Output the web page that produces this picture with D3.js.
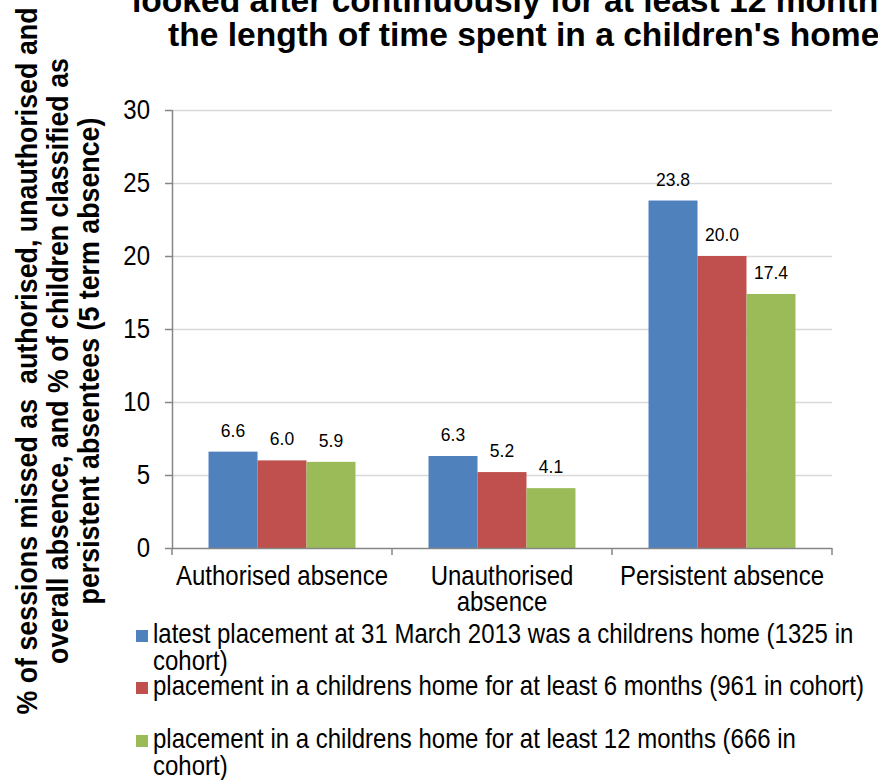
<!DOCTYPE html>
<html><head><meta charset="utf-8">
<script src="https://cdn.jsdelivr.net/npm/d3@7"></script>
<style>body{margin:0;background:#fff}svg{display:block}text{font-family:"Liberation Sans",Arial,sans-serif}</style>
</head><body>
<svg id="c" width="878" height="780"></svg>
<script>
const categories = [["Authorised absence"], ["Unauthorised", "absence"], ["Persistent absence"]];
const seriesNames = [
  ["latest placement at 31 March 2013 was a childrens home (1325 in", "cohort)"],
  ["placement in a childrens home for at least 6 months (961 in cohort)"],
  ["placement in a childrens home for at least 12 months (666 in", "cohort)"]
];
const latestPlacement = [6.6, 6.3, 23.8];
const atLeast6Months = [6.0, 5.2, 20.0];
const atLeast12Months = [5.9, 4.1, 17.4];
const yTicks = [0, 5, 10, 15, 20, 25, 30];
const titleLines = ["looked after continuously for at least 12 months", "the length of time spent in a children's home"];
const yTitleLines = ["% of sessions missed as  authorised, unauthorised and", "overall absence, and % of children classified as", "persistent absentees (5 term absence)"];
const colors = ["#4F81BD", "#C0504D", "#9BBB59"];
const seriesValues = [latestPlacement, atLeast6Months, atLeast12Months];

const SY = 1.15; // vertical glyph stretch seen in the reference
const svg = d3.select("#c");
const L = 172, R = 832, T = 110, B = 548;
const x0 = d3.scaleBand().domain(d3.range(categories.length)).range([L, R]).paddingInner(0).paddingOuter(0);
const groupW = x0.bandwidth() * 0.668;
const x1 = d3.scaleBand().domain(d3.range(seriesValues.length)).range([(x0.bandwidth() - groupW) / 2, (x0.bandwidth() + groupW) / 2]);
const y = d3.scaleLinear().domain([0, 30]).range([B, T]);

// gridlines
svg.append("g").selectAll("line").data(yTicks.filter(d => d > 0)).join("line")
  .attr("x1", L).attr("x2", R).attr("y1", d => y(d) + 0.5).attr("y2", d => y(d) + 0.5)
  .attr("stroke", "#d9d9d9").attr("stroke-width", 1.3);

// bars
const gs = svg.append("g").selectAll("g").data(categories).join("g")
  .attr("transform", (d, i) => `translate(${x0(i)},0)`);
gs.selectAll("rect").data((d, i) => seriesValues.map((s, j) => ({ j, v: s[i] }))).join("rect")
  .attr("x", d => x1(d.j)).attr("width", x1.bandwidth())
  .attr("y", d => y(d.v)).attr("height", d => y(0) - y(d.v))
  .attr("fill", d => colors[d.j]);
gs.selectAll("text.v").data((d, i) => seriesValues.map((s, j) => ({ j, v: s[i] }))).join("text")
  .attr("class", "v")
  .attr("transform", d => `translate(${x1(d.j) + x1.bandwidth() / 2},${y(d.v) - 15}) scale(1,1.05)`)
  .attr("text-anchor", "middle").attr("font-size", 17.5).attr("fill", "#000")
  .text(d => d.v.toFixed(1));

// y axis
const yAxis = svg.append("g").attr("transform", `translate(${L},0)`)
  .call(d3.axisLeft(y).tickValues(yTicks).tickSize(7).tickPadding(14));
yAxis.select(".domain").attr("stroke", "#868686").attr("stroke-width", 1.5).attr("d", `M0.5,${T}V${B}`);
yAxis.selectAll(".tick line").attr("stroke", "#868686").attr("stroke-width", 1.5);
yAxis.selectAll(".tick text").attr("font-size", 24).attr("fill", "#000")
  .attr("font-family", '"Liberation Sans",Arial,sans-serif')
  .attr("dy", null).attr("y", null)
  .attr("transform", `translate(-22,8.5) scale(1,${SY})`).attr("x", 0);

// x axis
const xg = svg.append("g");
xg.append("line").attr("x1", L).attr("x2", R).attr("y1", B + 0.5).attr("y2", B + 0.5).attr("stroke", "#868686").attr("stroke-width", 1.5);
xg.selectAll("line.t").data(d3.range(categories.length + 1)).join("line").attr("class", "t")
  .attr("x1", i => L + i * x0.bandwidth()).attr("x2", i => L + i * x0.bandwidth())
  .attr("y1", B).attr("y2", B + 7).attr("stroke", "#868686").attr("stroke-width", 1.5);
xg.selectAll("text").data(categories).join("text")
  .attr("text-anchor", "middle").attr("font-size", 24).attr("fill", "#000")
  .attr("transform", (d, i) => `translate(${x0(i) + x0.bandwidth() / 2},585) scale(1,${SY})`)
  .selectAll("tspan").data(d => d).join("tspan")
  .attr("x", 0).attr("dy", (d, k) => k === 0 ? 0 : 26 / SY).text(d => d);

// title
svg.append("g").selectAll("text").data(titleLines).join("text")
  .attr("x", (d, i) => i === 0 ? 132 : 168).attr("y", (d, i) => 12 + i * 34)
  .attr("font-size", 33.6).attr("font-weight", "bold").attr("fill", "#000").text(d => d);

// y title
svg.append("g").selectAll("text").data(yTitleLines).join("text")
  .attr("transform", (d, i) => `translate(${37 + i * 31},361) rotate(-90) scale(1,1.12)`)
  .attr("text-anchor", "middle")
  .attr("font-size", 26.8).attr("font-weight", "bold").attr("fill", "#000")
  .style("white-space", "pre").text(d => d);

// legend
const legY = [643, 695, 748];
const lg = svg.append("g").selectAll("g").data(seriesNames).join("g")
  .attr("transform", (d, i) => `translate(136,${legY[i]})`);
lg.append("rect").attr("x", 0).attr("y", -13).attr("width", 12).attr("height", 12).attr("fill", (d, i) => colors[i]);
lg.append("text").attr("transform", `translate(17,0) scale(1,${SY})`).attr("font-size", 24).attr("fill", "#000")
  .selectAll("tspan").data(d => d).join("tspan").attr("x", 0).attr("dy", (d, k) => k === 0 ? 0 : 27 / SY).text(d => d);
</script>
</body></html>
